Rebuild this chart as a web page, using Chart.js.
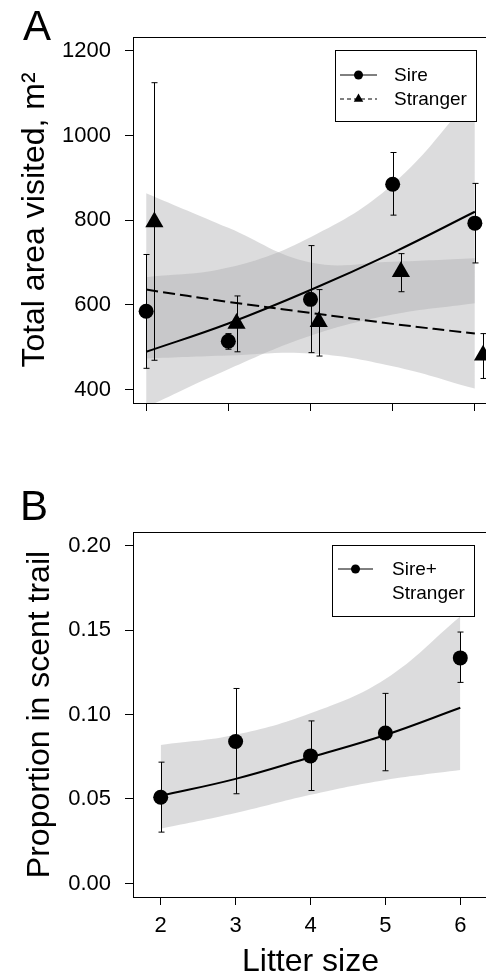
<!DOCTYPE html>
<html>
<head>
<meta charset="utf-8">
<script src="https://cdn.jsdelivr.net/npm/chart.js@4.4.1/dist/chart.umd.min.js"></script>
<style>
    html, body { margin: 0; padding: 0; background: #fff; width: 486px; height: 976px; overflow: hidden; }
    canvas { position: absolute; left: 0; }
    #chart-a { top: 0; }
    #chart-b { top: 480px; }
</style>
</head>
<body>
<canvas id="chart-a" width="500" height="460"></canvas>
<canvas id="chart-b" width="500" height="520"></canvas>
<script>
// panel A: total area visited
const litterSizes = [2, 3, 4, 5, 6];
const strangerX = [2.1, 3.1, 4.1, 5.1, 6.1];
const areaTicks = [400, 600, 800, 1000, 1200];

const sireArea = [585, 514, 613, 885, 793];
const sireAreaLow = [450, 495, 487, 812, 699];
const sireAreaHigh = [719, 532, 740, 960, 887];
const strangerArea = [796, 556, 560, 678, 481];
const strangerAreaLow = [469, 489, 479, 631, 426];
const strangerAreaHigh = [1125, 621, 636, 721, 532];

const sireFit = [489, 556, 635, 723, 820];
const sireBandLow = [358, 448, 527, 577, 604];
const sireBandHigh = [665, 688, 760, 885, 1100];
const strangerFit = [636, 607, 581, 555, 532];
const strangerBandLow = [473, 480, 485, 455, 402];
const strangerBandHigh = [864, 782, 700, 702, 710];

// panel B: proportion in scent trail
const propTicks = [0, 0.05, 0.10, 0.15, 0.20];
const propMean = [0.051, 0.084, 0.0755, 0.089, 0.1335];
const propLow = [0.0304, 0.0531, 0.055, 0.0667, 0.119];
const propHigh = [0.0718, 0.1154, 0.0962, 0.1125, 0.1488];
const propFit = [0.0519, 0.0619, 0.0747, 0.0879, 0.104];
const propBandLow = [0.0324, 0.0417, 0.0525, 0.0613, 0.0672];
const propBandHigh = [0.082, 0.088, 0.1007, 0.121, 0.158];

const FONT = "'Liberation Sans', Arial, Helvetica, sans-serif";
const bandColor = 'rgba(174, 174, 176, 0.43)';

Chart.defaults.font.family = FONT;
Chart.defaults.color = '#000';

const pts = (xs, ys) => xs.map((x, i) => ({ x: x, y: ys[i] }));

// order: higher numbers are drawn first (underneath)
const band = (ys, fill) => ({
    data: pts(litterSizes, ys),
    order: 10,
    fill: fill,
    backgroundColor: bandColor,
    borderColor: 'rgba(0,0,0,0)',
    borderWidth: 0,
    pointRadius: 0,
    tension: 0.4
});

const fitLine = (ys, dash) => ({
    data: pts(litterSizes, ys),
    order: 5,
    fill: false,
    borderColor: '#000',
    borderWidth: 2,
    borderDash: dash,
    pointRadius: 0,
    tension: 0.4
});

const markers = (xs, ys, style, radius) => ({
    data: pts(xs, ys),
    order: 1,
    showLine: false,
    pointStyle: style,
    pointRadius: radius,
    pointHoverRadius: radius,
    pointBackgroundColor: '#000',
    pointBorderColor: '#000',
    pointBorderWidth: 0,
    clip: false
});

// error bars with small caps, drawn through the chart's scales
const errorBars = (sets) => ({
    id: 'errorBars',
    afterDatasetsDraw(chart) {
        const { ctx, scales: { x, y } } = chart;
        ctx.save();
        ctx.strokeStyle = '#000';
        ctx.lineWidth = 1;
        sets.forEach(s => {
            s.x.forEach((xv, i) => {
                const px = Math.round(x.getPixelForValue(xv)) + 0.5;
                const top = y.getPixelForValue(s.high[i]);
                const bot = y.getPixelForValue(s.low[i]);
                ctx.beginPath();
                ctx.moveTo(px, top);
                ctx.lineTo(px, bot);
                ctx.moveTo(px - 3, top);
                ctx.lineTo(px + 3, top);
                ctx.moveTo(px - 3, bot);
                ctx.lineTo(px + 3, bot);
                ctx.stroke();
            });
        });
        ctx.restore();
    }
});

const frame = (letter, letterX, legend) => ({
    id: 'frame',
    afterDraw(chart) {
        const { ctx, chartArea: a } = chart;
        ctx.save();
        ctx.strokeStyle = '#000';
        ctx.lineWidth = 1;
        ctx.strokeRect(Math.round(a.left) + 0.5, Math.round(a.top) + 0.5, a.right - a.left, a.bottom - a.top);

        // panel letter
        ctx.fillStyle = '#000';
        ctx.font = '42px ' + FONT;
        ctx.textBaseline = 'alphabetic';
        ctx.fillText(letter, letterX, 40);

        // legend box
        ctx.fillStyle = '#fff';
        ctx.fillRect(legend.box[0], legend.box[1], legend.box[2], legend.box[3]);
        ctx.strokeRect(legend.box[0] + 0.5, legend.box[1] + 0.5, legend.box[2], legend.box[3]);
        ctx.font = '19px ' + FONT;
        ctx.textBaseline = 'middle';
        legend.items.forEach(it => {
            ctx.strokeStyle = '#000';
            ctx.fillStyle = '#000';
            ctx.lineWidth = 1;
            if (it.dash) {
                ctx.setLineDash(it.dash);
                ctx.beginPath();
                ctx.moveTo(legend.x0, it.y);
                ctx.lineTo(legend.x1, it.y);
                ctx.stroke();
                ctx.setLineDash([]);
            }
            if (it.marker) {
                const mx = (legend.x0 + legend.x1) / 2;
                ctx.beginPath();
                if (it.marker === 'circle') {
                    ctx.arc(mx, it.y, 4.5, 0, Math.PI * 2);
                } else {
                    const r = 5.5;
                    ctx.moveTo(mx, it.y - r);
                    ctx.lineTo(mx + r * 0.866, it.y + r / 2);
                    ctx.lineTo(mx - r * 0.866, it.y + r / 2);
                    ctx.closePath();
                }
                ctx.fill();
            }
            ctx.fillText(it.text, legend.textX, it.y + 1);
        });
        ctx.restore();
    }
});

const axes = (xMin, xMax, xLabels, yMin, yMax, yTicks, yFormat, yTitle, yTitlePad, xHeight) => ({
    x: {
        type: 'linear',
        min: xMin,
        max: xMax,
        afterBuildTicks: (axis) => { axis.ticks = litterSizes.map(v => ({ value: v })); },
        afterFit: (scale) => { scale.height = xHeight; },
        grid: { drawOnChartArea: false, drawTicks: true, tickLength: 8, color: '#000', lineWidth: 1 },
        border: { display: false },
        ticks: {
            font: { size: 22 },
            padding: 8,
            maxRotation: 0,
            autoSkip: false,
            callback: (v) => xLabels ? String(v) : ''
        },
        title: {
            display: !!xLabels,
            text: 'Litter size',
            font: { size: 32 },
            padding: { top: 0, bottom: 19 }
        }
    },
    y: {
        type: 'linear',
        min: yMin,
        max: yMax,
        afterBuildTicks: (axis) => { axis.ticks = yTicks.map(v => ({ value: v })); },
        afterFit: (scale) => { scale.width = 133; },
        grid: { drawOnChartArea: false, drawTicks: true, tickLength: 8, color: '#000', lineWidth: 1 },
        border: { display: false },
        ticks: {
            font: { size: 22 },
            padding: 14,
            autoSkip: false,
            callback: yFormat
        },
        title: {
            display: true,
            text: yTitle,
            font: { size: 32 },
            padding: { top: yTitlePad, bottom: 0 }
        }
    }
});

const baseOptions = (padTop, scales) => ({
    responsive: false,
    animation: false,
    devicePixelRatio: 1,
    layout: { padding: { top: padTop, right: 12, bottom: 0, left: 0 } },
    plugins: { legend: { display: false }, tooltip: { enabled: false } },
    scales: scales
});

const createAreaChart = () => {
    const ctx = document.getElementById('chart-a').getContext('2d');
    new Chart(ctx, {
        type: 'line',
        data: {
            datasets: [
                band(sireBandHigh, '+1'),
                band(sireBandLow, false),
                band(strangerBandHigh, '+1'),
                band(strangerBandLow, false),
                fitLine(sireFit, []),
                fitLine(strangerFit, [12, 5]),
                markers(litterSizes, sireArea, 'circle', 7.5),
                markers(strangerX, strangerArea, 'triangle', 10.5)
            ]
        },
        options: baseOptions(37, axes(1.84, 6.16, false, 368, 1233, areaTicks,
            (v) => String(v), 'Total area visited, m\u00B2', 16, 57)),
        plugins: [
            errorBars([
                { x: litterSizes, low: sireAreaLow, high: sireAreaHigh },
                { x: strangerX, low: strangerAreaLow, high: strangerAreaHigh }
            ]),
            frame('A', 23, {
                box: [335, 50, 141, 71],
                x0: 340, x1: 377, textX: 394,
                items: [
                    { text: 'Sire', y: 75, dash: [], marker: 'circle' },
                    { text: 'Stranger', y: 99, dash: [4, 3], marker: 'triangle' }
                ]
            })
        ]
    });
};

const createProportionChart = () => {
    const ctx = document.getElementById('chart-b').getContext('2d');
    new Chart(ctx, {
        type: 'line',
        data: {
            datasets: [
                band(propBandHigh, '+1'),
                band(propBandLow, false),
                fitLine(propFit, []),
                markers(litterSizes, propMean, 'circle', 7.5)
            ]
        },
        options: baseOptions(52, axes(1.63, 6.37, true, -0.008, 0.208, propTicks,
            (v) => v.toFixed(2), 'Proportion in scent trail', 21, 103)),
        plugins: [
            errorBars([{ x: litterSizes, low: propLow, high: propHigh }]),
            frame('B', 20, {
                box: [332, 65, 142, 71],
                x0: 338, x1: 373, textX: 392,
                items: [
                    { text: 'Sire+', y: 89, dash: [], marker: 'circle' },
                    { text: 'Stranger', y: 113, dash: null, marker: null }
                ]
            })
        ]
    });
};

document.addEventListener('DOMContentLoaded', function () {
    createAreaChart();
    createProportionChart();
});
</script>
</body>
</html>
